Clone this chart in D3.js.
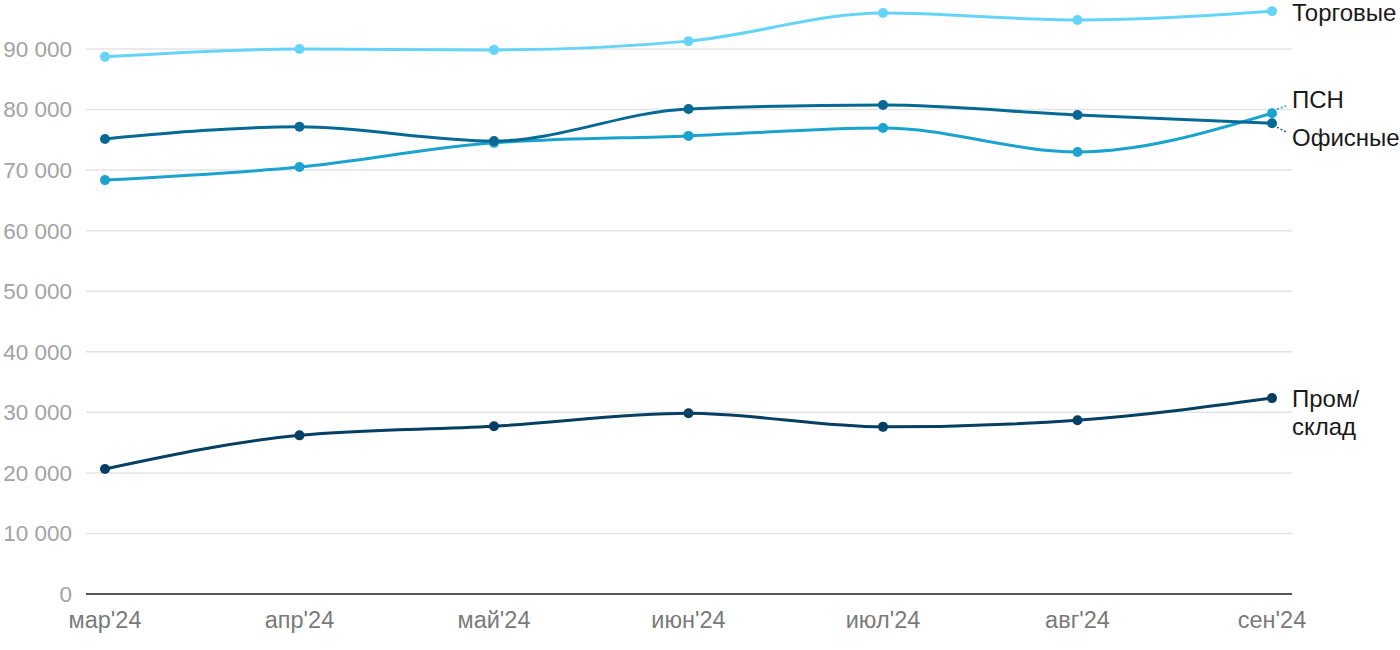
<!DOCTYPE html>
<html><head><meta charset="utf-8">
<script src="https://cdn.jsdelivr.net/npm/d3@7"></script>
<style>body{margin:0;background:#fff}svg{display:block;font-family:"Liberation Sans",Arial,sans-serif}</style>
</head><body><svg id="c" width="1400" height="650"></svg>
<script>
const months = ["мар'24","апр'24","май'24","июн'24","июл'24","авг'24","сен'24"];
const yTicks = [0,10000,20000,30000,40000,50000,60000,70000,80000,90000];
const torgovye = [88700, 90000, 89850, 91300, 95950, 94800, 96250];
const ofisnye  = [75150, 77150, 74800, 80100, 80750, 79100, 77750];
const psn      = [68350, 70500, 74500, 75650, 76950, 73000, 79400];
const prom     = [20650, 26200, 27700, 29850, 27600, 28700, 32350];
const seriesNames = ["Торговые","Офисные","ПСН","Пром/склад"];
const seriesColors = ["#66d4f9","#066994","#1aa3cf","#053f63"];

const svg = d3.select("#c");
const x = d3.scalePoint().domain(months).range([105,1272]);
const y = d3.scaleLinear().domain([0,90000]).range([594,49]);
const fmt = v => d3.format(",")(v).replace(/,/g," ");

// grid
svg.append("g").selectAll("line").data(yTicks.filter(d=>d>0)).join("line")
  .attr("x1",86).attr("x2",1292).attr("y1",d=>y(d)).attr("y2",d=>y(d))
  .attr("stroke","#e3e3e3").attr("stroke-width",1.5);
// y labels
svg.append("g").selectAll("text").data(yTicks).join("text")
  .attr("x",72).attr("y",d=>y(d)).attr("dy","0.35em").attr("text-anchor","end")
  .attr("fill","#a3a3a3").attr("font-size",22.5).text(fmt);
// baseline
svg.append("line").attr("x1",86).attr("x2",1292).attr("y1",y(0)).attr("y2",y(0))
  .attr("stroke","#222").attr("stroke-width",1.5);
// x labels
svg.append("g").selectAll("text").data(months).join("text")
  .attr("x",d=>x(d)).attr("y",628).attr("text-anchor","middle")
  .attr("fill","#7a7a7a").attr("font-size",23.5).text(d=>d);

const data = [torgovye, ofisnye, psn, prom];
const line = d3.line().x((d,i)=>x(months[i])).y(d=>y(d)).curve(d3.curveMonotoneX);
[3,2,1,0].forEach(k=>{
  const g = svg.append("g");
  g.append("path").attr("d",line(data[k])).attr("fill","none")
    .attr("stroke",seriesColors[k]).attr("stroke-width",3);
  g.selectAll("circle").data(data[k]).join("circle")
    .attr("cx",(d,i)=>x(months[i])).attr("cy",d=>y(d)).attr("r",5)
    .attr("fill",seriesColors[k]);
});

// end labels
const lx = 1292;
const endLabels = [
  {k:0, lines:["Торговые"], y: y(torgovye[6])+1},
  {k:2, lines:["ПСН"], y: 100, leader:true},
  {k:1, lines:["Офисные"], y: 138, leader:true},
  {k:3, lines:["Пром/","склад"], y: y(prom[6])}
];
endLabels.forEach(l=>{
  const t = svg.append("text").attr("x",lx).attr("y",l.y)
    .attr("fill","#1a1a1a").attr("font-size",24);
  l.lines.forEach((s,i)=>t.append("tspan").attr("x",lx).attr("dy", i===0?"0.35em":"1.2em").text(s));
  if(l.leader){
    const px = x(months[6]), py = y(data[l.k][6]);
    svg.append("line").attr("x1",px+5).attr("y1",py + (l.y<py?-4:4))
      .attr("x2",lx-6).attr("y2",l.y + (l.y<py?6:-6))
      .attr("stroke",seriesColors[l.k]).attr("stroke-width",1.5).attr("stroke-dasharray","2,2");
  }
});
</script></body></html>
